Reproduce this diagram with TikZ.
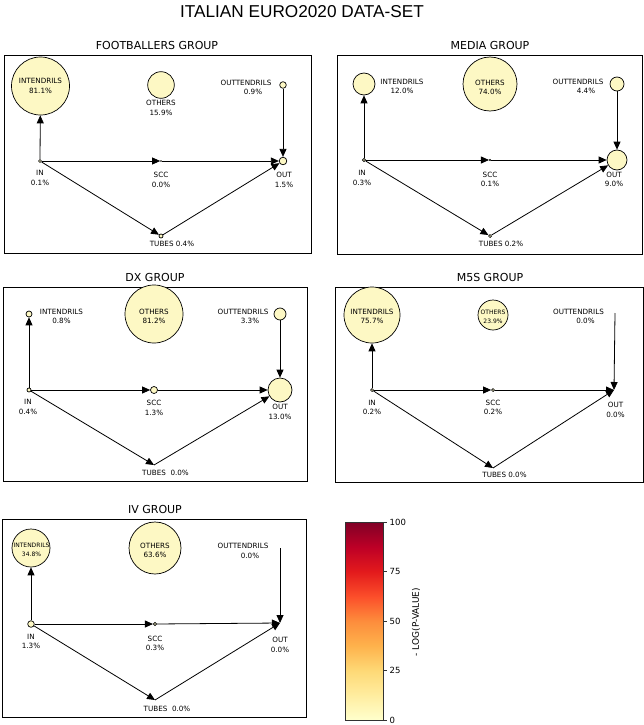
\documentclass[tikz,border=0pt]{standalone}
\usepackage{fontspec}
\setmainfont{DejaVu Sans}
\newfontfamily\titlefont{Liberation Sans}
\usetikzlibrary{arrows.meta}
\definecolor{nodefill}{RGB}{253,248,196}
\definecolor{barline}{RGB}{50,50,50}
\definecolor{ylA}{HTML}{FFFFCC}
\definecolor{ylB}{HTML}{FFEDA0}
\definecolor{ylC}{HTML}{FED976}
\definecolor{ylD}{HTML}{FEB24C}
\definecolor{ylE}{HTML}{FD8D3C}
\definecolor{ylF}{HTML}{FC4E2A}
\definecolor{ylG}{HTML}{E31A1C}
\definecolor{ylH}{HTML}{BD0026}
\definecolor{ylI}{HTML}{800026}
\begin{document}
\begin{tikzpicture}[x=1pt,y=-1pt,
  comp/.style={circle, draw=black, line width=0.7pt, fill=nodefill, inner sep=0pt, minimum size=#1},
  comp/.default=3pt,
  lab/.style={font=\fontsize{7.2}{9.5}\selectfont, align=center, inner sep=0pt},
  slab/.style={font=\fontsize{6}{9}\selectfont, align=center, inner sep=0pt},
  flow/.style={-{Triangle[length=8pt,width=7pt]}, line width=0.8pt, black},
  panel/.style={draw=black, line width=0.9pt},
  ptitle/.style={font=\fontsize{11}{12}\selectfont, inner sep=0pt},
  ticklab/.style={font=\fontsize{8.5}{10}\selectfont, anchor=west, inner sep=0pt}]
\useasboundingbox (0,0) rectangle (644,725);

\node[font=\titlefont\fontsize{17.2}{20}\selectfont, inner sep=0pt] (title) at (302,12) {ITALIAN EURO2020 DATA-SET};

% ---------------- FOOTBALLERS ----------------
\draw[panel] (4,55) rectangle (311,253);
\node[ptitle] (f-title) at (157,45.5) {FOOTBALLERS GROUP};
\node[comp=58pt] (f-int) at (40.5,86) {};
\node[lab] (f-int-l) at (40.5,86) {INTENDRILS\\81.1\%};
\node[comp=26.6pt] (f-oth) at (161,85) {};
\node[lab] (f-oth-l) at (161,108) {OTHERS\\15.9\%};
\node[comp=6.6pt] (f-outt) at (283,85) {};
\node[lab] (f-outt-l) at (246,87.5) {OUTTENDRILS\\\hspace*{14pt}0.9\%};
\node[comp=3pt] (f-in) at (40,161) {};
\node[lab] (f-in-l) at (40,178) {IN\\0.1\%};
\node[comp=1pt] (f-scc) at (161,161) {};
\node[lab] (f-scc-l) at (161,179.7) {SCC\\0.0\%};
\node[comp=7.6pt] (f-out) at (283,161) {};
\node[lab] (f-out-l) at (284,180) {OUT\\1.5\%};
\node[comp=4pt] (f-tub) at (161,236) {};
\node[lab] (f-tub-l) at (172,244) {TUBES 0.4\%};
\draw[flow] (f-in) -- (f-int);
\draw[flow] (f-in) -- (f-scc);
\draw[flow] (f-scc) -- (f-out);
\draw[flow] (f-in) -- (f-tub);
\draw[flow] (f-tub) -- (f-out);
\draw[flow] (f-outt) -- (f-out);

% ---------------- MEDIA ----------------
\draw[panel] (337,55) rectangle (642,254);
\node[ptitle] (m-title) at (490,45.5) {MEDIA GROUP};
\node[comp=22pt] (m-int) at (364,84) {};
\node[lab] (m-int-l) at (402,86.5) {INTENDRILS\\12.0\%};
\node[comp=54pt] (m-oth) at (490,84) {};
\node[lab] (m-oth-l) at (490,87.5) {OTHERS\\74.0\%};
\node[comp=14pt] (m-outt) at (617,84) {};
\node[lab] (m-outt-l) at (578,86.5) {OUTTENDRILS\\\hspace*{16pt}4.4\%};
\node[comp=3.4pt] (m-in) at (364,160) {};
\node[lab] (m-in-l) at (362,178) {IN\\0.3\%};
\node[comp=1.4pt] (m-scc) at (490,160) {};
\node[lab] (m-scc-l) at (490,179.5) {SCC\\0.1\%};
\node[comp=20pt] (m-out) at (617,160) {};
\node[lab] (m-out-l) at (614,179.5) {OUT\\9.0\%};
\node[comp=3pt] (m-tub) at (490,236) {};
\node[lab] (m-tub-l) at (501,244) {TUBES 0.2\%};
\draw[flow] (m-in) -- (m-int);
\draw[flow] (m-in) -- (m-scc);
\draw[flow] (m-scc) -- (m-out);
\draw[flow] (m-in) -- (m-tub);
\draw[flow] (m-tub) -- (m-out);
\draw[flow] (m-outt) -- (m-out);

% ---------------- DX ----------------
\draw[panel] (3,287) rectangle (307,481);
\node[ptitle] (d-title) at (155,277.5) {DX GROUP};
\node[comp=6pt] (d-int) at (29,314) {};
\node[lab] (d-int-l) at (61.5,316.5) {INTENDRILS\\0.8\%};
\node[comp=58pt] (d-oth) at (154,314) {};
\node[lab] (d-oth-l) at (154,316.5) {OTHERS\\81.2\%};
\node[comp=12pt] (d-outt) at (280,314) {};
\node[lab] (d-outt-l) at (243,316.5) {OUTTENDRILS\\\hspace*{14pt}3.3\%};
\node[comp=4pt] (d-in) at (29,390) {};
\node[lab] (d-in-l) at (28,406.7) {IN\\0.4\%};
\node[comp=7pt] (d-scc) at (154,390) {};
\node[lab] (d-scc-l) at (154,408) {SCC\\1.3\%};
\node[comp=24pt] (d-out) at (280,390) {};
\node[lab] (d-out-l) at (280,412) {OUT\\13.0\%};
\coordinate (d-tub) at (154,465);
\node[lab] (d-tub-l) at (165.5,472.7) {TUBES\ \ 0.0\%};
\draw[flow] (d-in) -- (d-int);
\draw[flow] (d-in) -- (d-scc);
\draw[flow] (d-scc) -- (d-out);
\draw[flow] (d-in) -- (d-tub);
\draw[flow] (d-tub) -- (d-out);
\draw[flow] (d-outt) -- (d-out);

% ---------------- M5S ----------------
\draw[panel] (335,287) rectangle (643,482);
\node[ptitle] (s-title) at (490,277.5) {M5S GROUP};
\node[comp=56pt] (s-int) at (372,315) {};
\node[lab] (s-int-l) at (372,316.5) {INTENDRILS\\75.7\%};
\node[comp=30pt] (s-oth) at (493,315) {};
\node[slab] (s-oth-l) at (493,316.5) {OTHERS\\23.9\%};
\coordinate (s-outt) at (615,313);
\node[lab] (s-outt-l) at (578.5,316.5) {OUTTENDRILS\\\hspace*{14pt}0.0\%};
\node[comp=3pt] (s-in) at (372,390) {};
\node[lab] (s-in-l) at (372,407.5) {IN\\0.2\%};
\node[comp=3pt] (s-scc) at (493,390) {};
\node[lab] (s-scc-l) at (493,407.5) {SCC\\0.2\%};
\coordinate (s-out) at (614,390);
\node[lab] (s-out-l) at (615.5,410) {OUT\\0.0\%};
\coordinate (s-tub) at (493,468);
\node[lab] (s-tub-l) at (504.5,474.5) {TUBES 0.0\%};
\draw[flow] (s-in) -- (s-int);
\draw[flow] (s-in) -- (s-scc);
\draw[flow] (s-scc) -- (s-out);
\draw[flow] (s-in) -- (s-tub);
\draw[flow] (s-tub) -- (s-out);
\draw[flow] (s-outt) -- (s-out);

% ---------------- IV ----------------
\draw[panel] (2,519) rectangle (306,717);
\node[ptitle] (v-title) at (155,509.5) {IV GROUP};
\node[comp=38pt] (v-int) at (31,548) {};
\node[slab] (v-int-l) at (31.5,550) {INTENDRILS\\34.8\%};
\node[comp=52pt] (v-oth) at (155,548) {};
\node[lab] (v-oth-l) at (155,550.5) {OTHERS\\63.6\%};
\coordinate (v-outt) at (280,548);
\node[lab] (v-outt-l) at (243,551) {OUTTENDRILS\\\hspace*{14pt}0.0\%};
\node[comp=6.6pt] (v-in) at (31,624) {};
\node[lab] (v-in-l) at (31,641.5) {IN\\1.3\%};
\node[comp=3.4pt] (v-scc) at (155,624) {};
\node[lab] (v-scc-l) at (155,643.3) {SCC\\0.3\%};
\coordinate (v-out) at (280,623);
\node[lab] (v-out-l) at (280,645) {OUT\\0.0\%};
\coordinate (v-tub) at (155,700);
\node[lab] (v-tub-l) at (167,709) {TUBES\ \ 0.0\%};
\draw[flow] (v-in) -- (v-int);
\draw[flow] (v-in) -- (v-scc);
\draw[flow] (v-scc) -- (v-out);
\draw[flow] (v-in) -- (v-tub);
\draw[flow] (v-tub) -- (v-out);
\draw[flow] (v-outt) -- (v-out);

% ---------------- COLOUR BAR ----------------
\shade[bottom color=ylA, top color=ylB] (345,695.25) rectangle (383,720);
\shade[bottom color=ylB, top color=ylC] (345,670.5) rectangle (383,695.5);
\shade[bottom color=ylC, top color=ylD] (345,645.75) rectangle (383,670.75);
\shade[bottom color=ylD, top color=ylE] (345,621) rectangle (383,646);
\shade[bottom color=ylE, top color=ylF] (345,596.25) rectangle (383,621.25);
\shade[bottom color=ylF, top color=ylG] (345,571.5) rectangle (383,596.5);
\shade[bottom color=ylG, top color=ylH] (345,546.75) rectangle (383,571.75);
\shade[bottom color=ylH, top color=ylI] (345,522) rectangle (383,547);
\draw[barline, line width=0.8pt] (345,522) rectangle (383,720);
\foreach \v/\yy in {0/720,25/670.5,50/621,75/571.5,100/522}{
  \draw[barline, line width=0.8pt] (383,\yy) -- (387,\yy);
  \node[ticklab] (cb-\v) at (389.5,\yy) {\v};
}
\node[rotate=90, font=\fontsize{9}{10}\selectfont, inner sep=0pt] (cb-label) at (416,622) {- LOG(P-VALUE)};
\end{tikzpicture}
\end{document}
